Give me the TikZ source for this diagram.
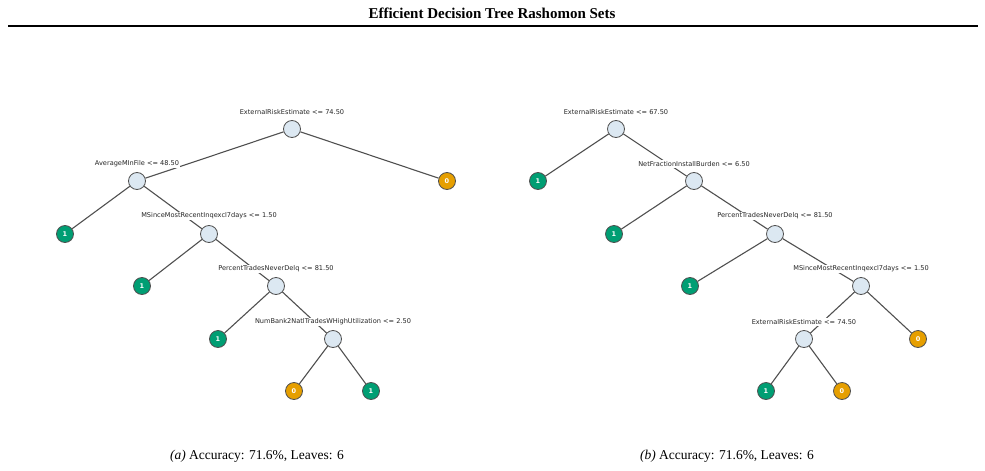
\documentclass[tikz,border=0pt]{standalone}
\usepackage{fontspec}
\setmainfont{Liberation Serif}
\newfontfamily\dvs{DejaVu Sans}
\definecolor{inner}{HTML}{DCE8F2}
\definecolor{gr}{HTML}{009E73}
\definecolor{orr}{HTML}{E69F00}
\definecolor{edg}{HTML}{505050}
\tikzset{
 split/.style={circle,draw=edg,line width=0.8pt,fill=inner,minimum size=17pt,inner sep=0},
 lf/.style={circle,draw=edg,line width=0.8pt,minimum size=17pt,inner sep=0,text=white,font=\dvs\fontsize{6.5}{7}\selectfont\bfseries},
 lone/.style={lf,fill=gr},
 lzero/.style={lf,fill=orr},
 lab/.style={fill=white,inner sep=1pt,font=\dvs\fontsize{6.6}{8}\selectfont,text=black!85},
 ed/.style={draw=edg,line width=1.1pt}
}
\begin{document}
\begin{tikzpicture}[x=1pt,y=-1pt]
\useasboundingbox (0,0) rectangle (985,471);
\node[font=\bfseries\fontsize{15}{18}\selectfont] (title) at (492,13) {Efficient Decision Tree Rashomon Sets};
\coordinate (hl) at (8,26); \coordinate (hr) at (978,26);
\draw[line width=1.2pt] (hl) -- (hr);
% left tree
\node[split] (r) at (292,129) {};
\node[split] (a) at (137,181) {};
\node[lzero] (l1) at (447,181) {0};
\node[lone] (l2) at (65,234) {1};
\node[split] (b) at (209,234) {};
\node[lone] (l3) at (142,286) {1};
\node[split] (c) at (276,286) {};
\node[lone] (l4) at (218,339) {1};
\node[split] (d) at (333,339) {};
\node[lzero] (l5) at (294,391) {0};
\node[lone] (l6) at (371,391) {1};
\foreach \u/\v in {r/a,r/l1,a/l2,a/b,b/l3,b/c,c/l4,c/d,d/l5,d/l6} \draw[ed] (\u) -- (\v);
\node[lab] (ta) at (292,112) {ExternalRiskEstimate <= 74.50};
\node[lab] (tb) at (137,164) {AverageMInFile <= 48.50};
\node[lab] (tc) at (209,216) {MSinceMostRecentInqexcl7days <= 1.50};
\node[lab] (td) at (276,269) {PercentTradesNeverDelq <= 81.50};
\node[lab] (te) at (333,322) {NumBank2NatlTradesWHighUtilization <= 2.50};
% right tree
\node[split] (R) at (616,129) {};
\node[lone] (L1) at (538,181) {1};
\node[split] (A) at (694,181) {};
\node[lone] (L2) at (614,234) {1};
\node[split] (B) at (775,234) {};
\node[lone] (L3) at (690,286) {1};
\node[split] (C) at (861,286) {};
\node[split] (D) at (804,339) {};
\node[lzero] (L4) at (918,339) {0};
\node[lone] (L5) at (766,391) {1};
\node[lzero] (L6) at (842,391) {0};
\foreach \u/\v in {R/L1,R/A,A/L2,A/B,B/L3,B/C,C/D,C/L4,D/L5,D/L6} \draw[ed] (\u) -- (\v);
\node[lab] (TA) at (616,112) {ExternalRiskEstimate <= 67.50};
\node[lab] (TB) at (694,164) {NetFractionInstallBurden <= 6.50};
\node[lab] (TC) at (775,216) {PercentTradesNeverDelq <= 81.50};
\node[lab] (TD) at (861,269) {MSinceMostRecentInqexcl7days <= 1.50};
\node[lab] (TE) at (804,322) {ExternalRiskEstimate <= 74.50};
% captions
\node[font=\fontsize{13.5}{16}\selectfont] (ca) at (257,456) {\textit{(a)} Accuracy: 71.6\%, Leaves: 6};
\node[font=\fontsize{13.5}{16}\selectfont] (cb) at (727,456) {\textit{(b)} Accuracy: 71.6\%, Leaves: 6};
\end{tikzpicture}
\end{document}
